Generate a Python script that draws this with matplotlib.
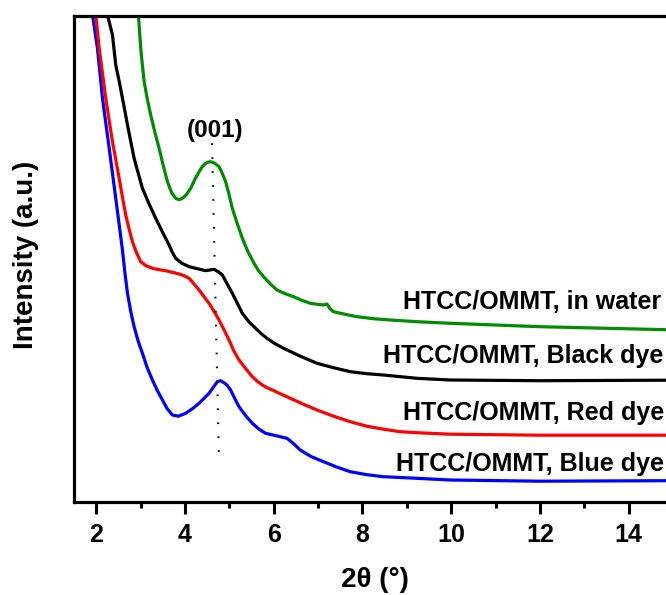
import matplotlib
matplotlib.use("Agg")
import matplotlib.pyplot as plt
from matplotlib.ticker import MultipleLocator

plt.rcParams['font.family'] = ['Liberation Sans', 'DejaVu Sans']
plt.rcParams['font.weight'] = 'bold'

# XRD patterns (2theta in degrees, intensity in arbitrary units, stacked)
blue_x = [1.917, 2.029, 2.142, 2.293, 2.441, 2.592, 2.65, 2.705, 2.78, 2.855,
          2.95, 3.042, 3.15, 3.267, 3.38, 3.493, 3.6, 3.718, 3.85, 4.017,
          4.17, 4.319, 4.544, 4.65, 4.731, 4.8, 4.882, 4.95, 5.030, 5.12,
          5.219, 5.37, 5.519, 5.67, 5.818, 6.05, 6.300, 6.45, 6.599, 6.85,
          7.124, 7.4, 7.725, 8.1, 8.475, 9.226, 9.976, 12.0, 14.84]
blue_y = [486.7, 453.4, 403.4, 353.4, 303.4, 251.7, 228.0, 208.4, 190.0, 175.0,
          160.0, 148.4, 134.0, 121.7, 111.0, 101.7, 93.0, 86.7, 85.5, 88.4,
          93.0, 98.4, 108.4, 115.0, 120.0, 121.0, 119.0, 116.5, 111.7, 103.5,
          95.0, 86.0, 78.4, 72.5, 68.4, 66.0, 63.4, 58.0, 51.7, 45.0,
          40.0, 35.0, 30.0, 27.0, 25.0, 23.4, 21.7, 20.5, 21.0]

red_x = [1.991, 2.068, 2.216, 2.367, 2.518, 2.59, 2.666, 2.74, 2.817, 2.9,
         3.004, 3.12, 3.267, 3.42, 3.567, 3.869, 3.98, 4.094, 4.2, 4.319,
         4.43, 4.544, 4.66, 4.769, 4.88, 4.994, 5.1, 5.219, 5.37, 5.519,
         5.63, 5.744, 5.85, 5.969, 6.17, 6.374, 6.67, 6.975, 7.35, 7.725,
         8.1, 8.475, 8.85, 9.226, 9.976, 12.0, 14.84]
red_y = [486.7, 453.4, 403.4, 360.0, 323.4, 305.0, 286.7, 273.0, 260.0, 250.0,
         240.0, 236.0, 233.4, 232.0, 231.0, 227.7, 226.0, 223.4, 218.0, 211.7,
         205.0, 198.4, 190.0, 181.7, 172.0, 161.7, 151.0, 141.7, 133.0, 125.0,
         120.5, 116.7, 114.0, 111.7, 107.5, 103.4, 97.5, 91.7, 85.5, 80.0,
         75.5, 72.5, 70.0, 69.0, 67.5, 66.5, 66.5]

black_x = [2.254, 2.367, 2.441, 2.52, 2.592, 2.65, 2.705, 2.78, 2.855, 2.95,
           3.042, 3.19, 3.342, 3.49, 3.643, 3.72, 3.792, 3.93, 4.094, 4.28,
           4.467, 4.656, 4.75, 4.843, 4.95, 5.068, 5.18, 5.294, 5.44, 5.593,
           5.72, 5.850, 6.03, 6.223, 6.6, 6.975, 7.35, 7.725, 8.1, 8.475,
           9.226, 9.976, 12.0, 14.84]
black_y = [486.7, 466.7, 436.7, 420.0, 403.4, 390.0, 376.7, 360.0, 343.4, 328.0,
           313.4, 298.0, 283.4, 270.0, 256.7, 249.0, 243.4, 238.5, 235.0, 233.0,
           231.0, 232.4, 230.0, 226.7, 218.0, 208.4, 198.5, 188.4, 180.0, 173.4,
           168.0, 163.4, 158.0, 153.4, 145.5, 138.4, 134.0, 130.0, 128.0, 126.7,
           123.4, 121.7, 121.0, 121.5]

green_x = [2.952, 3.004, 3.04, 3.081, 3.15, 3.229, 3.32, 3.418, 3.51, 3.605,
           3.7, 3.792, 3.87, 3.943, 4.03, 4.130, 4.22, 4.319, 4.39, 4.467,
           4.52, 4.580, 4.67, 4.769, 4.84, 4.918, 4.99, 5.068, 5.18, 5.294,
           5.42, 5.557, 5.66, 5.773, 5.92, 6.075, 6.26, 6.448, 6.63, 6.824,
           6.97, 7.124, 7.200, 7.27, 7.349, 7.6, 7.876, 8.25, 8.625, 9.226,
           9.976, 12.0, 14.84]
green_y = [486.7, 453.4, 437.0, 420.0, 403.0, 386.7, 370.0, 353.4, 336.5, 320.0,
           309.0, 303.4, 302.0, 303.4, 307.0, 313.4, 322.0, 330.0, 335.0, 338.4,
           339.5, 340.0, 338.5, 335.0, 328.5, 320.0, 308.0, 293.4, 278.0, 263.4,
           250.0, 238.4, 231.0, 225.0, 218.0, 211.7, 208.0, 205.0, 201.5, 198.4,
           197.5, 196.7, 197.7, 193.0, 190.0, 187.5, 185.0, 183.0, 181.7, 180.0,
           178.4, 175.0, 172.0]

series = [
    (blue_x, blue_y, '#0000FF', 'HTCC/OMMT, Blue dye', 8.76, 31.0),
    (red_x, red_y, '#FF0000', 'HTCC/OMMT, Red dye', 8.91, 81.7),
    (black_x, black_y, '#000000', 'HTCC/OMMT, Black dye', 8.475, 138.4),
    (green_x, green_y, '#008C00', 'HTCC/OMMT, in water', 8.91, 192.7),
]

# (001) reflection guide
peak_line_x = [4.611, 4.769]
peak_line_y = [358.4, 38.4]
peak_label = '(001)'
peak_label_pos = (4.69, 371.7)

fig = plt.figure(figsize=(6.66, 5.95), dpi=100)
ax = fig.add_axes([74 / 666, (595 - 501.7) / 595, 599 / 666, 485.4 / 595])

for xs, ys, color, label, lx, ly in series:
    ax.plot(xs, ys, color=color, lw=2.3, solid_joinstyle='round')
    ax.text(lx, ly, label, color='black', fontsize=18, fontweight='bold',
            ha='left', va='baseline', clip_on=False)

ax.plot(peak_line_x, peak_line_y, color='black', lw=1.5,
        linestyle=(0, (0.8, 5.9)), dash_capstyle='butt')
ax.text(*peak_label_pos, peak_label, fontsize=17.5, fontweight='bold',
        ha='center', va='center')

ax.set_xlim(1.5, 15.0)
ax.set_ylim(0, 485.4)

ax.xaxis.set_major_locator(MultipleLocator(2))
ax.xaxis.set_minor_locator(MultipleLocator(1))
ax.set_yticks([])
ax.tick_params(axis='x', which='major', direction='out', length=8.5, width=2.2,
               pad=7, labelsize=18)
ax.tick_params(axis='x', which='minor', direction='out', length=4, width=2.2)
for lbl in ax.get_xticklabels():
    lbl.set_fontweight('bold')

for sp in ax.spines.values():
    sp.set_linewidth(2.3)

ax.set_xlabel('2θ (°)', fontsize=20, fontweight='bold', va='center')
ax.xaxis.set_label_coords(0.5025, -0.161)
ax.set_ylabel('Intensity (a.u.)', fontsize=20, fontweight='bold', va='center')
ax.yaxis.set_label_coords(-0.0793, 0.508)

fig.savefig('out.png', dpi=100)
